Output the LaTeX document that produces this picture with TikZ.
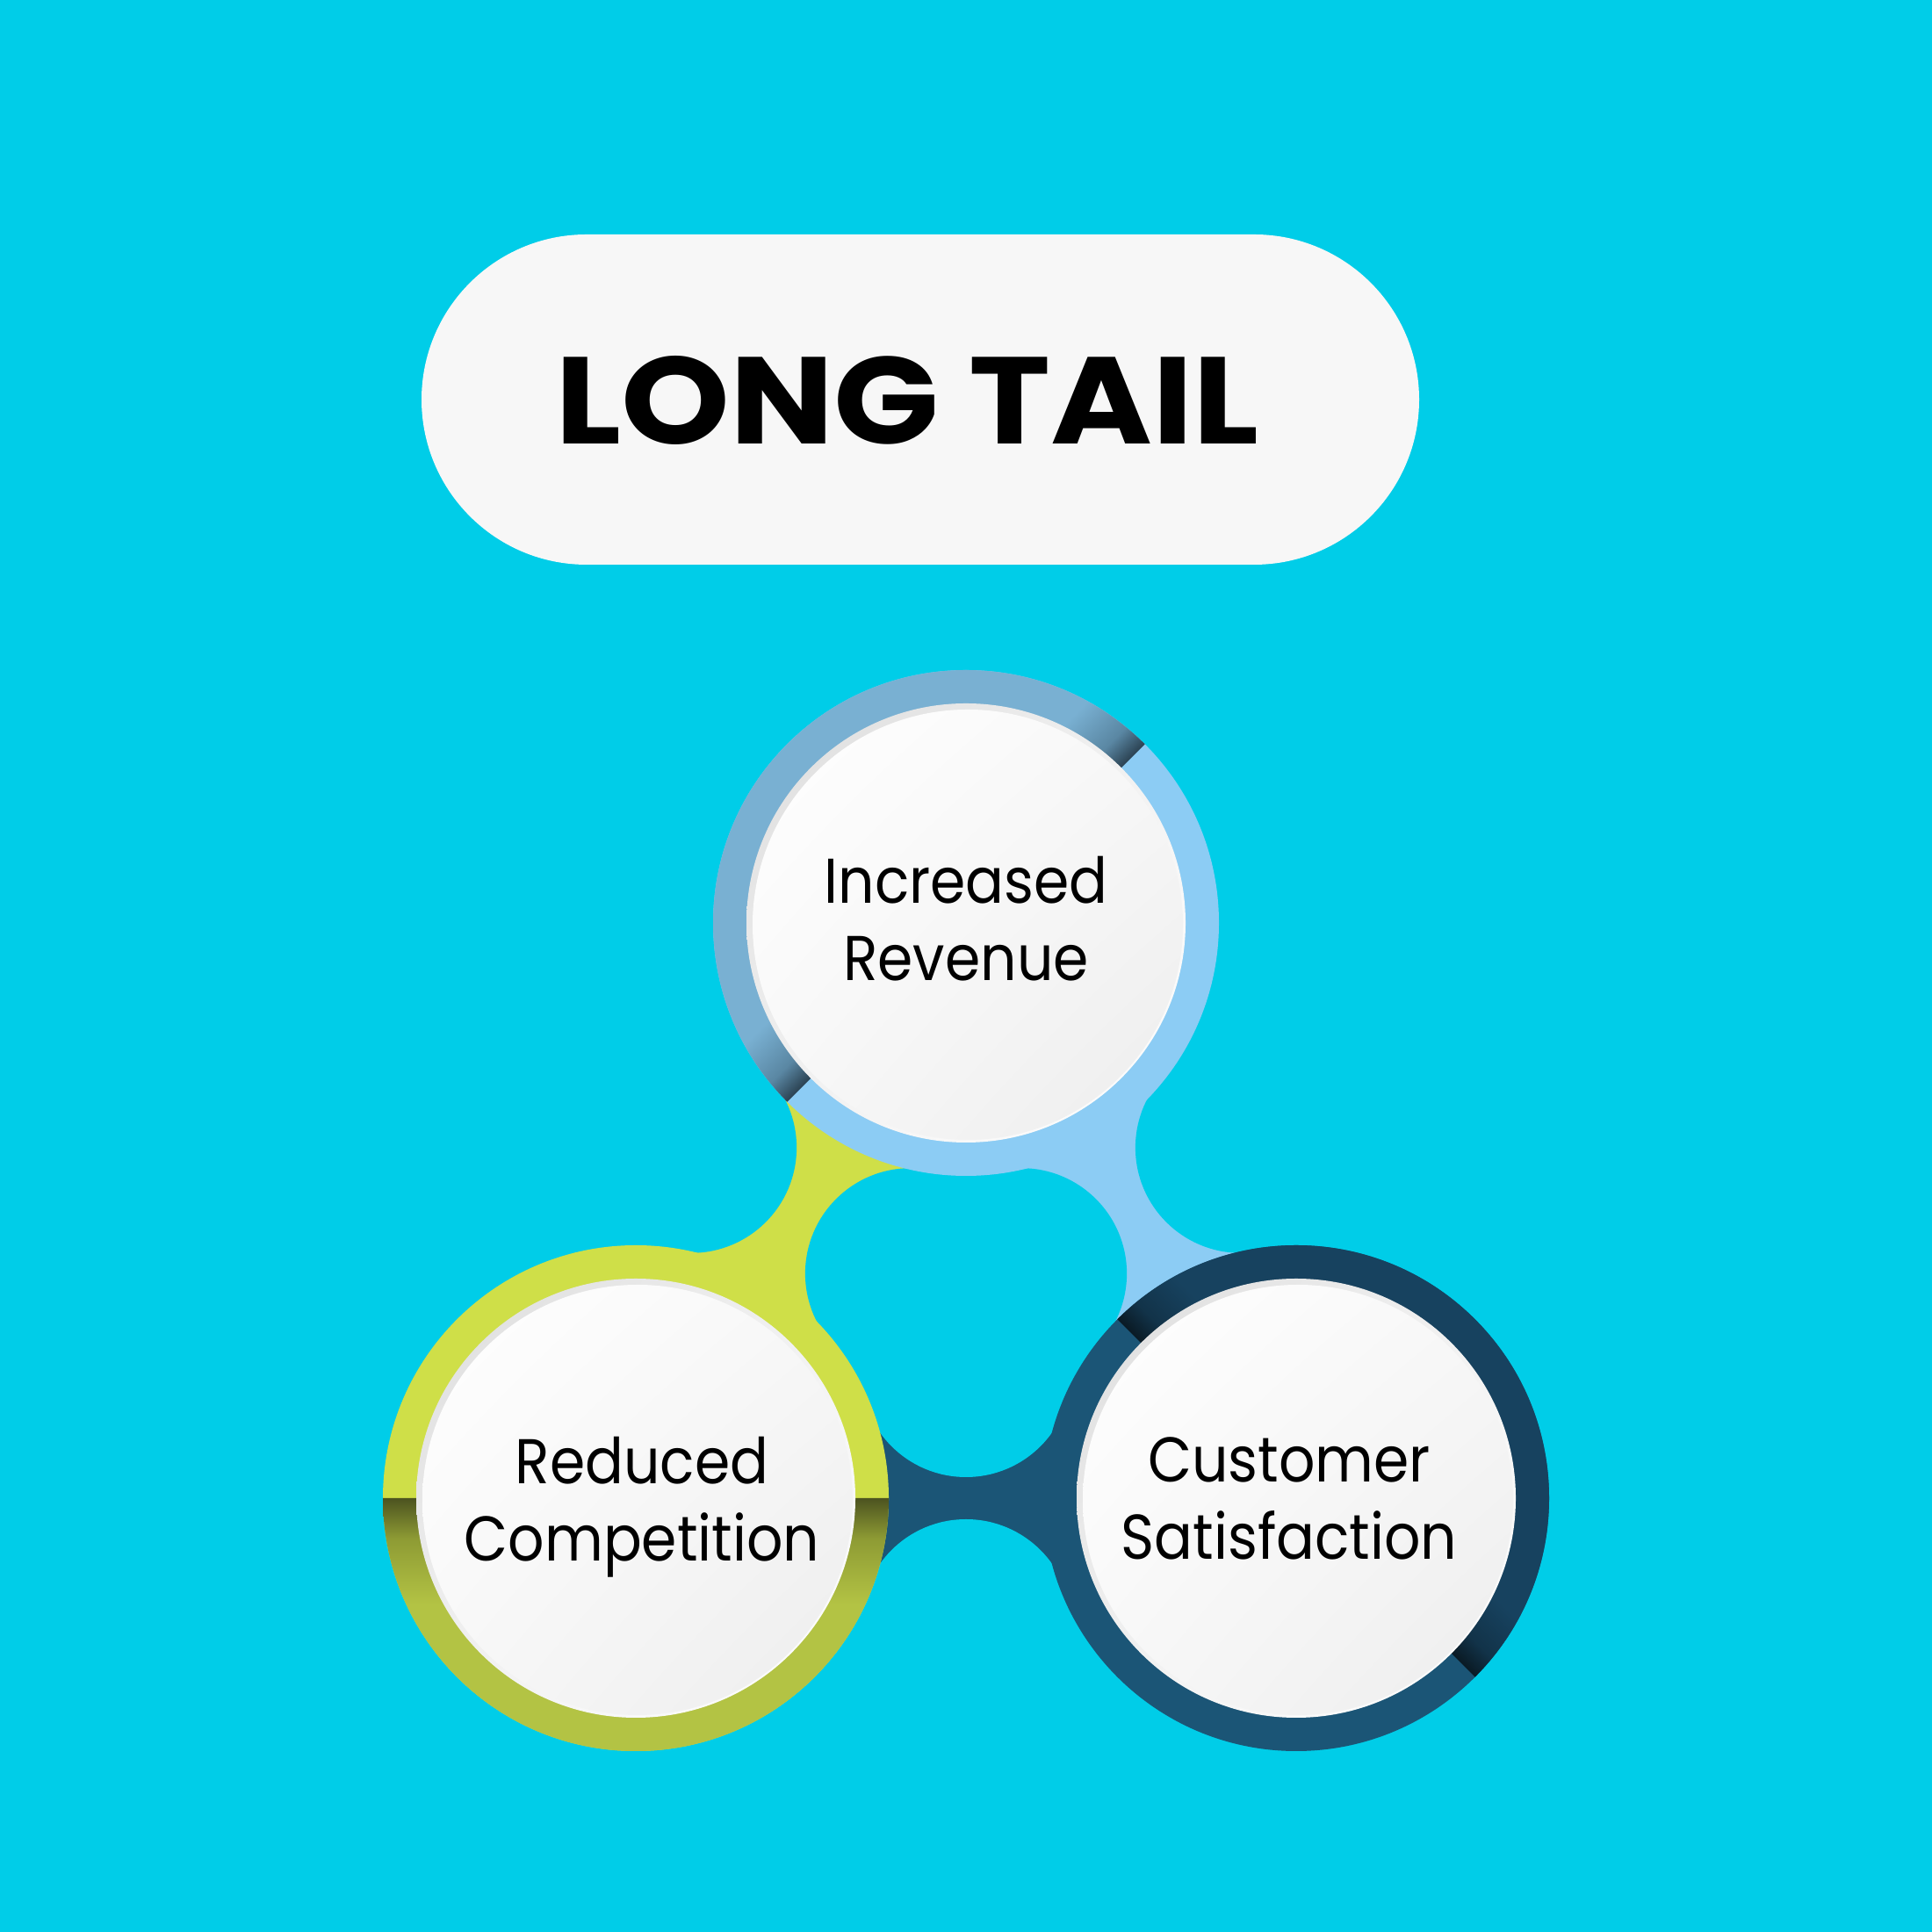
\documentclass[tikz,border=0pt]{standalone}
\usepackage{fontspec}
\setmainfont{Poppins}
\usetikzlibrary{calc,shadings}

\definecolor{bgcyan}{HTML}{00CDE8}
\definecolor{pillwhite}{HTML}{F7F7F7}
\definecolor{skyblue}{HTML}{8CCCF4}
\definecolor{steellight}{HTML}{79B0D2}
\definecolor{steelmid}{HTML}{5A87A3}
\definecolor{steeldark}{HTML}{2B4252}
\definecolor{limegreen}{HTML}{CFDF48}
\definecolor{olivelight}{HTML}{B3C344}
\definecolor{olivemid}{HTML}{8E9B34}
\definecolor{olivedark}{HTML}{4C5320}
\definecolor{navyblue}{HTML}{1B5576}
\definecolor{navylight}{HTML}{17425F}
\definecolor{navymid}{HTML}{123349}
\definecolor{navydark}{HTML}{0A1A24}
\definecolor{rimgray}{HTML}{DCDCDC}
\definecolor{discgray}{HTML}{EDEDED}

% shadow halves of the rings (dark at the split, light away from it)
\pgfdeclareverticalshading{revenueshadow}{100bp}{color(0bp)=(steeldark); color(25bp)=(steeldark); color(30bp)=(steelmid); color(39bp)=(steellight); color(100bp)=(steellight)}
\pgfdeclareverticalshading{competitionshadow}{100bp}{color(0bp)=(olivedark); color(25bp)=(olivedark); color(33bp)=(olivemid); color(46bp)=(olivelight); color(100bp)=(olivelight)}
\pgfdeclareverticalshading{satisfactionshadow}{100bp}{color(0bp)=(navydark); color(25bp)=(navydark); color(30bp)=(navymid); color(39bp)=(navylight); color(100bp)=(navylight)}

\begin{document}
\begin{tikzpicture}[
    pill/.style={fill=pillwhite, rounded corners=1.88cm, minimum width=11.36cm, minimum height=3.76cm, inner sep=0pt},
    titletext/.style={font=\fontsize{40}{48}\selectfont\bfseries, text=black, xscale=1.12, transform shape},
    bubbletext/.style={font=\fontsize{20.5}{25}\selectfont, align=center, text=black, xscale=0.9, transform shape}
]
    % Background, also fixes the page size
    \fill[bgcyan] (0,0) rectangle (22,22);

    % Circle centres
    \coordinate (Top) at (11.00, 11.49);
    \coordinate (Left) at (7.24, 4.94);
    \coordinate (Right) at (14.76, 4.94);

    % Title
    \node[pill] (pillbox) at (10.48, 17.45) {};
    \node[titletext] (title) at (10.33, 17.44) {LONG TAIL};

    % Bridges between the circles
    \foreach \a/\b/\col in {Top/Left/limegreen, Top/Right/skyblue, Left/Right/navyblue} {
        \coordinate (M) at ($(\a)!0.5!(\b)$);
        \fill[\col] (\a) -- ($(M)!1.44cm!90:(\b)$) -- (\b) -- ($(M)!1.44cm!-90:(\b)$) -- cycle;
    }
    % Round cut-outs on both sides of every bridge
    \foreach \a/\b in {Top/Left, Top/Right, Left/Right} {
        \coordinate (M) at ($(\a)!0.5!(\b)$);
        \fill[bgcyan] ($(M)!1.44cm!90:(\b)$) circle (1.20);
        \fill[bgcyan] ($(M)!1.44cm!-90:(\b)$) circle (1.20);
    }

    % Rings and white discs
    \foreach \c/\base/\shadow/\ang in {Top/skyblue/revenueshadow/45, Left/limegreen/competitionshadow/180, Right/navyblue/satisfactionshadow/-45} {
        \fill[\base] (\c) circle (2.88);
        \begin{scope}[transform canvas={rotate around={\ang:(\c)}}]
            \shade[shading=\shadow] ($(\c)+(2.88,0)$) arc[start angle=0, end angle=180, radius=2.88]
                -- ($(\c)+(-2.40,0)$) arc[start angle=180, end angle=0, radius=2.40] -- cycle;
        \end{scope}
        \shade[upper left=rimgray, lower right=white, upper right=white!95!black, lower left=white!95!black] (\c) circle (2.50);
        \shade[upper left=white, lower right=discgray, upper right=white!97!black, lower left=white!97!black] ($(\c)+(0.02,-0.02)$) circle (2.45);
    }

    % Labels
    \node[bubbletext] (revenue) at ($(Top)+(0,0.05)$) {Increased\\Revenue};
    \node[bubbletext] (competition) at ($(Left)+(0.07,-0.10)$) {Reduced\\Competition};
    \node[bubbletext] (satisfaction) at ($(Right)+(-0.08,0)$) {Customer\\Satisfaction};
\end{tikzpicture}
\end{document}
